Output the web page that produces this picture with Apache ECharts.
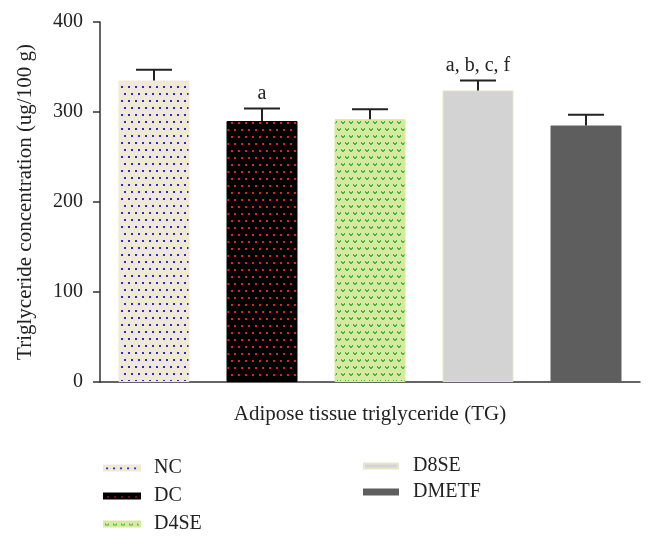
<!DOCTYPE html>
<html>
<head>
<meta charset="utf-8">
<script src="https://cdn.jsdelivr.net/npm/echarts@6/dist/echarts.min.js"></script>
<style>
html,body{margin:0;padding:0;background:#fff;}
#main{width:654px;height:539px;}
</style>
</head>
<body>
<div id="main"></div>
<script>
// ---- data ----
const groups = ['NC', 'DC', 'D4SE', 'D8SE', 'DMETF'];
const means = [335, 290, 292, 324, 285];
const errors = [12, 14, 11, 11, 12];
const sigLabels = ['', 'a', '', 'a, b, c, f', ''];
const yTicks = [0, 100, 200, 300, 400];
const xTitle = 'Adipose tissue triglyceride (TG)';
const yTitle = 'Triglyceride concentration (ug/100 g)';

const FONT = "'Liberation Serif', 'DejaVu Serif', serif";

function tile(w, h, bg, draw) {
  const c = document.createElement('canvas');
  c.width = w; c.height = h;
  const ctx = c.getContext('2d');
  ctx.fillStyle = bg; ctx.fillRect(0, 0, w, h);
  draw(ctx);
  return c;
}
const ncPat = tile(7, 14, '#efe9d6', ctx => {
  ctx.fillStyle = '#2a2ad8';
  ctx.fillRect(2, 2, 2, 2);
  ctx.fillRect(5, 9, 2, 2);
  ctx.fillRect(-2, 9, 2, 2);
});
const dcPat = tile(7, 14, '#000000', ctx => {
  ctx.fillStyle = '#e02020';
  ctx.fillRect(3, 3, 2, 2);
  ctx.fillRect(0, 10, 2, 2);
  ctx.fillRect(7, 10, 2, 2);
});
const d4Pat = tile(8, 14, '#d8e7a2', ctx => {
  ctx.fillStyle = '#36c036';
  function v(x, y) {
    ctx.fillRect(x, y, 1, 2);
    ctx.fillRect(x + 3, y, 1, 2);
    ctx.fillRect(x + 1, y + 1, 2, 2);
  }
  v(1, 2); v(5, 9); v(-3, 9);
});
const fills = [
  {image: ncPat, repeat: 'repeat'},
  {image: dcPat, repeat: 'repeat'},
  {image: d4Pat, repeat: 'repeat'},
  '#d3d3d3',
  '#5e5e5e'
];
const borders = ['#efe9d6', '#000000', '#d8e7a2', '#e8e6c8', '#5e5e5e'];

const barSeries = groups.map((g, i) => ({
  name: g,
  type: 'bar',
  barWidth: 71,
  barGap: '-100%',
  data: groups.map((_, j) => j === i ? means[j] : '-'),
  itemStyle: {color: fills[i], borderColor: borders[i], borderWidth: 1},
  emphasis: {disabled: true},
  z: 2
}));

const errData = groups.map((g, i) => [i, means[i], means[i] + errors[i], sigLabels[i]]);

const chart = echarts.init(document.getElementById('main'), null, {renderer: 'canvas'});
chart.setOption({
  animation: false,
  backgroundColor: '#ffffff',
  grid: {left: 100, right: 14, top: 22, bottom: 157},
  xAxis: {
    type: 'category',
    data: groups,
    name: xTitle,
    nameLocation: 'middle',
    nameGap: 22,
    nameTextStyle: {fontFamily: FONT, fontSize: 21, color: '#222'},
    axisLine: {lineStyle: {color: '#333', width: 1.5}},
    axisTick: {alignWithLabel: true, length: 10, lineStyle: {color: '#333', width: 1.5}},
    axisLabel: {show: false}
  },
  yAxis: {
    type: 'value',
    min: yTicks[0],
    max: yTicks[yTicks.length - 1],
    interval: 100,
    name: yTitle,
    nameLocation: 'middle',
    nameGap: 64,
    nameTextStyle: {fontFamily: FONT, fontSize: 21, color: '#222'},
    axisLine: {show: true, lineStyle: {color: '#333', width: 1.5}},
    axisTick: {show: true, length: 7, lineStyle: {color: '#333', width: 1.5}},
    axisLabel: {fontFamily: FONT, fontSize: 20, color: '#222', margin: 17},
    splitLine: {show: false}
  },
  legend: [
    {
      data: groups.slice(0, 3),
      orient: 'vertical',
      left: 103, top: 458, padding: 0,
      itemWidth: 36, itemHeight: 5, itemGap: 8,
      icon: 'rect',
      textStyle: {fontFamily: FONT, fontSize: 20, color: '#222', lineHeight: 20, padding: [0, 0, 0, 9]},
      selectedMode: false
    },
    {
      data: groups.slice(3),
      orient: 'vertical',
      left: 363, top: 456, padding: 0,
      itemWidth: 34, itemHeight: 5, itemGap: 6,
      icon: 'rect',
      textStyle: {fontFamily: FONT, fontSize: 20, color: '#222', lineHeight: 20, padding: [0, 0, 0, 10]},
      selectedMode: false
    }
  ],
  series: barSeries.concat([{
    type: 'custom',
    name: 'err',
    data: errData,
    z: 5,
    renderItem: function (params, api) {
      const x = api.coord([api.value(0), api.value(1)]);
      const top = api.coord([api.value(0), api.value(2)]);
      const hw = 18;
      const children = [
        {type: 'line', shape: {x1: x[0], y1: x[1], x2: top[0], y2: top[1]}, style: {stroke: '#222', lineWidth: 2}},
        {type: 'line', shape: {x1: top[0] - hw, y1: top[1], x2: top[0] + hw, y2: top[1]}, style: {stroke: '#222', lineWidth: 2}}
      ];
      const lbl = sigLabels[params.dataIndex];
      if (lbl) {
        children.push({type: 'text', style: {text: lbl, x: top[0], y: top[1] - 5, textAlign: 'center', textVerticalAlign: 'bottom', fontFamily: FONT, fontSize: 20, fill: '#222'}});
      }
      return {type: 'group', children: children};
    }
  }])
});
</script>
</body>
</html>
